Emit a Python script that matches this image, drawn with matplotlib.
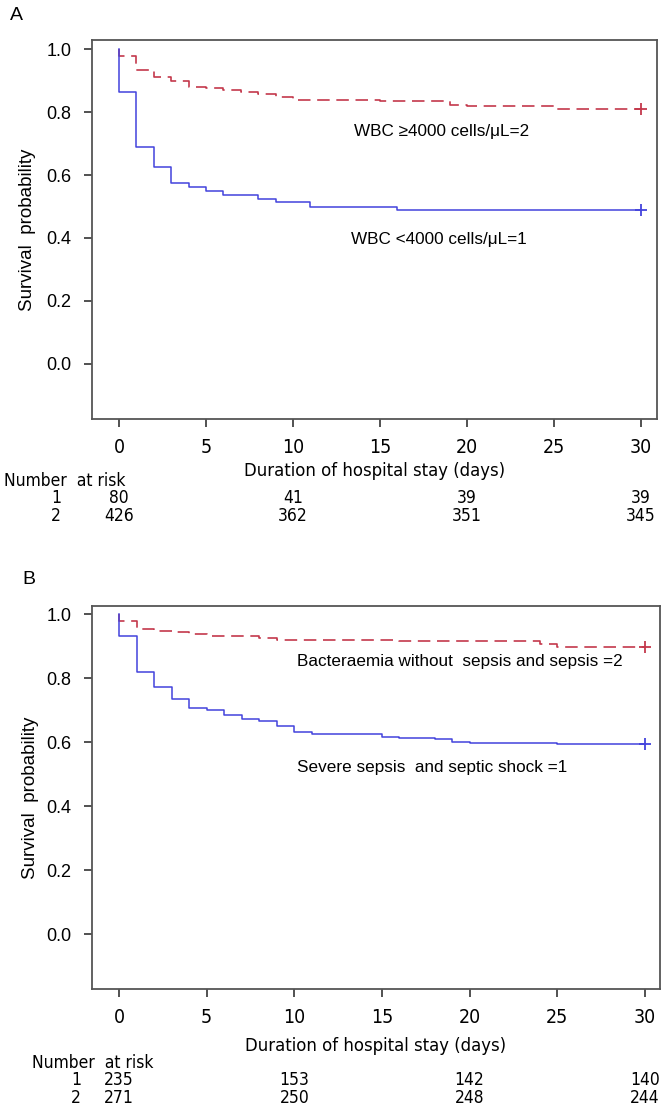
import matplotlib
matplotlib.use("Agg")
import matplotlib.pyplot as plt
import matplotlib.transforms as mtransforms

plt.rcParams['font.family'] = ['Liberation Sans', 'DejaVu Sans']
# narrow face for axis numbers and the risk table
NARROW = dict(family=['DejaVu Sans'], stretch='condensed')

# Panel A: WBC groups (Kaplan-Meier steps, days)
a_days_1 = [0, 0, 1, 2, 3, 4, 5, 6, 8, 9, 11, 16, 30]
a_surv_1 = [1.0, 0.863, 0.690, 0.626, 0.574, 0.561, 0.549, 0.537, 0.523, 0.513, 0.500, 0.489, 0.489]
a_days_2 = [0, 0, 1, 2, 3, 4, 5, 6, 7, 8, 9, 10, 15, 19, 20, 25, 30]
a_surv_2 = [1.0, 0.977, 0.935, 0.913, 0.900, 0.881, 0.877, 0.870, 0.865, 0.858, 0.849, 0.839,
            0.835, 0.824, 0.818, 0.811, 0.811]
a_label_1 = "WBC <4000 cells/\u03bcL=1"
a_label_2 = "WBC \u22654000 cells/\u03bcL=2"
a_risk_days = [0, 10, 20, 30]
a_risk_1 = [80, 41, 39, 39]
a_risk_2 = [426, 362, 351, 345]

# Panel B: sepsis severity groups
b_days_1 = [0, 0, 1, 2, 3, 4, 5, 6, 7, 8, 9, 10, 11, 15, 16, 18, 19, 20, 25, 30]
b_surv_1 = [1.0, 0.932, 0.821, 0.774, 0.736, 0.708, 0.701, 0.684, 0.672, 0.666, 0.652, 0.632,
            0.626, 0.617, 0.613, 0.609, 0.602, 0.599, 0.595, 0.595]
b_days_2 = [0, 0, 1, 2, 3, 4, 5, 8, 9, 16, 24, 25, 30]
b_surv_2 = [1.0, 0.980, 0.955, 0.949, 0.945, 0.939, 0.933, 0.927, 0.921, 0.916, 0.907, 0.899, 0.899]
b_label_1 = "Severe sepsis  and septic shock =1"
b_label_2 = "Bacteraemia without  sepsis and sepsis =2"
b_risk_days = [0, 10, 20, 30]
b_risk_1 = [235, 153, 142, 140]
b_risk_2 = [271, 250, 248, 244]

xticks = [0, 5, 10, 15, 20, 25, 30]
yticks = [0.0, 0.2, 0.4, 0.6, 0.8, 1.0]

RED = '#c4384c'
BLUE = '#4343dc'
W, H = 666, 1112

fig = plt.figure(figsize=(W / 100, H / 100), dpi=100)


def draw_panel(rect, xlim, ylim, d1, s1, d2, s2, lab1, pos1, lab2, pos2):
    ax = fig.add_axes(rect)
    ax.step(d2, s2, where='post', color=RED, lw=1.2, dashes=(7.5, 4))
    ax.step(d1, s1, where='post', color=BLUE, lw=1.1)
    ax.plot([d2[-1]], [s2[-1]], marker='+', ms=8, mew=1.3, color=RED)
    ax.plot([d1[-1]], [s1[-1]], marker='+', ms=8, mew=1.3, color=BLUE)
    ax.text(pos2[0], pos2[1], lab2, fontsize=12.3, va='center', ha='left')
    ax.text(pos1[0], pos1[1], lab1, fontsize=12.3, va='center', ha='left')
    ax.set_xlim(*xlim)
    ax.set_ylim(*ylim)
    ax.set_xticks(xticks)
    ax.set_yticks(yticks)
    ax.set_yticklabels(['%.1f' % v for v in yticks], fontsize=13)
    ax.set_xticklabels([str(v) for v in xticks], fontsize=14, **NARROW)
    ax.tick_params(axis='y', length=6, width=1.2, pad=9, color='#333333', labelcolor='black')
    ax.tick_params(axis='x', length=6, width=1.2, pad=8, color='#333333', labelcolor='black')
    for sp in ax.spines.values():
        sp.set_color('#555555')
        sp.set_linewidth(1.3)
    ax.set_xlabel('Duration of hospital stay (days)', fontsize=13.2, labelpad=3, **NARROW)
    return ax


def risk_table(ax, title_x, title_y, row_x, row_ys, days, r1, r2):
    fig.text(title_x / W, 1 - title_y / H, 'Number  at risk', fontsize=12.5,
             va='center', ha='left', **NARROW)
    tr = mtransforms.blended_transform_factory(ax.transData, fig.transFigure)
    for lab, vals, y in zip(['1', '2'], [r1, r2], row_ys):
        fig.text(row_x / W, 1 - y / H, lab, fontsize=12.5,
                 va='center', ha='center', **NARROW)
        for d, v in zip(days, vals):
            ax.text(d, 1 - y / H, str(v), transform=tr, fontsize=12.5,
                    va='center', ha='center', **NARROW)


# Panel A
axA = draw_panel([92 / W, 1 - 419 / H, 565 / W, 379 / H], (-1.55, 30.92), (-0.175, 1.029),
                 a_days_1, a_surv_1, a_days_2, a_surv_2,
                 a_label_1, (13.33, 0.394), a_label_2, (13.5, 0.737))
axA.set_ylabel('Survival  probability', fontsize=13.5, labelpad=7)
risk_table(axA, 4, 481, 56, [498, 516], a_risk_days, a_risk_1, a_risk_2)
fig.text(10 / W, 1 - 16 / H, 'A', fontsize=14, va='center', ha='left')

# Panel B
axB = draw_panel([92 / W, 1 - 989 / H, 568 / W, 383 / H], (-1.54, 30.86), (-0.172, 1.026),
                 b_days_1, b_surv_1, b_days_2, b_surv_2,
                 b_label_1, (10.15, 0.52), b_label_2, (10.15, 0.851))
axB.set_ylabel('Survival  probability', fontsize=13.5, labelpad=5)
axB.xaxis.labelpad = 7
risk_table(axB, 32, 1063, 76, [1080, 1098], b_risk_days, b_risk_1, b_risk_2)
fig.text(22 / W, 1 - 580 / H, 'B', fontsize=14, va='center', ha='left')

fig.savefig('out.png', dpi=100)
